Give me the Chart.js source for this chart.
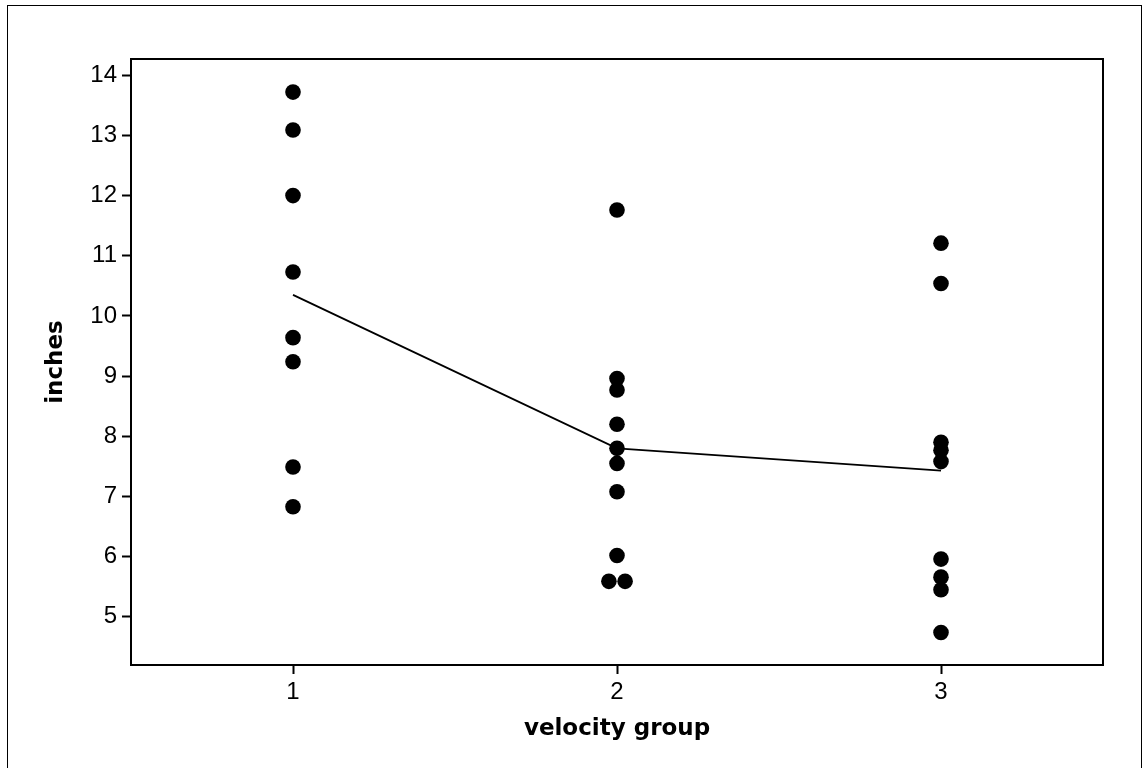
<!DOCTYPE html>
<html>
<head>
<meta charset="utf-8">
<script src="https://cdn.jsdelivr.net/npm/chart.js@4/dist/chart.umd.min.js"></script>
<style>
  html, body { margin: 0; padding: 0; background: #fff; }
  #wrap { width: 1143px; height: 768px; position: relative; }
</style>
</head>
<body>
<div id="wrap"><canvas id="dotChart" width="1143" height="768"></canvas></div>
<script>
// ---- Data: distance (inches) per velocity group ----
const groups = [1, 2, 3];
const group1Inches = [13.72, 13.09, 12.00, 10.73, 9.64, 9.24, 7.49, 6.83];
const group2Inches = [11.76, 8.96, 8.77, 8.20, 7.80, 7.55, 7.08, 6.02, 5.59, 5.59];
const group3Inches = [11.21, 10.54, 7.90, 7.77, 7.58, 5.96, 5.66, 5.45, 4.74];
const groupMeans = [10.35, 7.80, 7.43];
const yTickValues = [5, 6, 7, 8, 9, 10, 11, 12, 13, 14];
const xTickValues = [1, 2, 3];

// tied values sit side by side instead of on top of each other
const TIE_SHIFT = 0.025;
const toPoints = (group, values) => {
  const counts = {};
  values.forEach(v => { counts[v] = (counts[v] || 0) + 1; });
  const seen = {};
  return values.map(v => {
    const n = counts[v];
    const i = seen[v] = (seen[v] || 0) + 1;
    const shift = n > 1 ? (i - (n + 1) / 2) * 2 * TIE_SHIFT : 0;
    return { x: group + shift, y: v };
  });
};

const allPoints = [group1Inches, group2Inches, group3Inches]
  .flatMap((vals, i) => toPoints(groups[i], vals));

// plot frame + outer border
const framePlugin = {
  id: 'frame',
  beforeDraw(chart) {
    const ctx = chart.ctx;
    ctx.save();
    ctx.fillStyle = '#fff';
    ctx.fillRect(0, 0, chart.width, chart.height);
    ctx.strokeStyle = '#000';
    ctx.lineWidth = 1;
    ctx.strokeRect(7.5, 5.5, 1134, 800);
    ctx.restore();
  },
  afterDatasetsDraw(chart) {
    const { ctx, chartArea: a } = chart;
    ctx.save();
    ctx.strokeStyle = '#000';
    ctx.lineWidth = 2;
    ctx.strokeRect(a.left, a.top, a.right - a.left, a.bottom - a.top);
    ctx.restore();
  }
};

const tickFont = { family: 'Liberation Sans', size: 24 };
const titleFont = { family: 'DejaVu Sans', size: 23, weight: 'bold' };

new Chart(document.getElementById('dotChart'), {
  type: 'scatter',
  data: {
    datasets: [
      {
        type: 'line',
        label: 'mean',
        data: groups.map((g, i) => ({ x: g, y: groupMeans[i] })),
        borderColor: '#000',
        borderWidth: 1.8,
        pointRadius: 0,
        fill: false,
        tension: 0
      },
      {
        label: 'inches',
        data: allPoints,
        backgroundColor: '#000',
        borderWidth: 0,
        pointRadius: 7.8
      }
    ]
  },
  options: {
    responsive: false,
    animation: false,
    layout: { padding: { top: 59, right: 40, left: 0, bottom: 0 } },
    plugins: {
      legend: { display: false },
      tooltip: { enabled: false }
    },
    scales: {
      x: {
        type: 'linear',
        min: 0.5,
        max: 3.5,
        afterBuildTicks: s => { s.ticks = xTickValues.map(v => ({ value: v })); },
        afterFit: s => { s.height = 103; },
        border: { display: false },
        grid: { drawOnChartArea: false, drawTicks: true, tickLength: 9, tickColor: '#000', tickWidth: 2 },
        ticks: { color: '#000', font: tickFont, padding: 4, maxRotation: 0 },
        title: { display: true, text: 'velocity group', color: '#000', font: titleFont, padding: { top: 0, bottom: 25 } }
      },
      y: {
        type: 'linear',
        min: 4.2,
        max: 14.27,
        afterBuildTicks: s => { s.ticks = yTickValues.map(v => ({ value: v })); },
        afterFit: s => { s.width = 131; },
        border: { display: false },
        grid: { drawOnChartArea: false, drawTicks: true, tickLength: 9, tickColor: '#000', tickWidth: 2 },
        ticks: { color: '#000', font: tickFont, padding: 5 },
        title: { display: true, text: 'inches', color: '#000', font: titleFont, padding: { top: 42, bottom: 0 } }
      }
    }
  },
  plugins: [framePlugin]
});
</script>
</body>
</html>
